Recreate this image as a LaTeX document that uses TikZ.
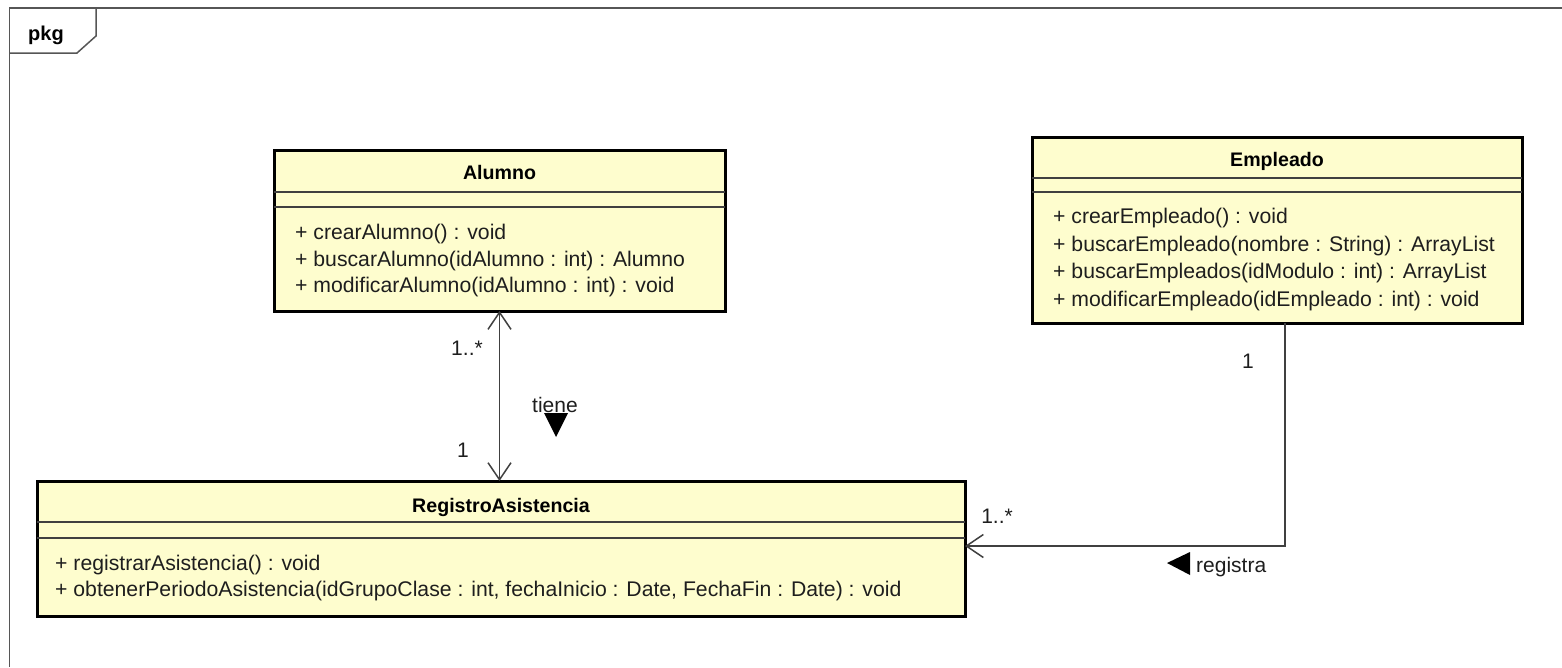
\documentclass[tikz,border=0pt]{standalone}
\usepackage{fontspec}
\setmainfont{Liberation Sans}
\usetikzlibrary{arrows.meta}
\definecolor{classfill}{RGB}{254,253,206}
\definecolor{ink}{RGB}{30,30,30}
\begin{document}
\begin{tikzpicture}[x=1pt,y=-1pt,
  classbox/.style={draw=black, line width=3pt, fill=classfill, anchor=north west, inner sep=0pt, outer sep=0pt},
  sepline/.style={draw=ink!85, line width=1.5pt},
  optext/.style={anchor=base west, inner sep=0pt, font=\fontsize{21.2}{24}\selectfont, text=ink},
  titletext/.style={anchor=base, inner sep=0pt, font=\fontsize{19.6}{24}\selectfont\bfseries, text=black},
  lbl/.style={anchor=base, inner sep=0pt, font=\fontsize{21}{24}\selectfont, text=ink},
  assoc/.style={draw=ink!85, line width=1.5pt},
  dirmark/.style={fill=black, draw=none},
  framestyle/.style={draw=ink!75, line width=1.5pt},
  >={Straight Barb[length=17pt,width=23pt]}]
\useasboundingbox (0,0) rectangle (1562,667);

% package frame
\draw[framestyle] (1562,8) -- (9.5,8) -- (9.5,667);
\draw[framestyle] (96,8) -- (96,36) -- (77,53) -- (9.5,53);
\node[anchor=base west, inner sep=0pt, font=\fontsize{20}{24}\selectfont\bfseries] (pkg) at (28,40) {pkg};

% Alumno
\node[classbox, minimum width=451pt, minimum height=161pt] (alumno) at (274,150) {};
\draw[sepline] (alumno.west |- 0,192) -- (alumno.east |- 0,192);
\draw[sepline] (alumno.west |- 0,207) -- (alumno.east |- 0,207);
\node[titletext] (alumnoT) at (499.5,179) {Alumno};
\node[optext] (a1) at (295,239) {+ crearAlumno() : void};
\node[optext] (a2) at (295,266) {+ buscarAlumno(idAlumno : int) : Alumno};
\node[optext] (a3) at (295,292) {+ modificarAlumno(idAlumno : int) : void};

% Empleado
\node[classbox, minimum width=490pt, minimum height=186pt] (empleado) at (1032,137) {};
\draw[sepline] (empleado.west |- 0,178) -- (empleado.east |- 0,178);
\draw[sepline] (empleado.west |- 0,192) -- (empleado.east |- 0,192);
\node[titletext] (empleadoT) at (1277,166) {Empleado};
\node[optext] (e1) at (1053,223) {+ crearEmpleado() : void};
\node[optext] (e2) at (1053,251) {+ buscarEmpleado(nombre : String) : ArrayList};
\node[optext] (e3) at (1053,278) {+ buscarEmpleados(idModulo : int) : ArrayList};
\node[optext] (e4) at (1053,306) {+ modificarEmpleado(idEmpleado : int) : void};

% RegistroAsistencia
\node[classbox, minimum width=928pt, minimum height=135pt] (registro) at (37,481) {};
\draw[sepline] (registro.west |- 0,522) -- (registro.east |- 0,522);
\draw[sepline] (registro.west |- 0,538) -- (registro.east |- 0,538);
\node[titletext] (registroT) at (501,512) {RegistroAsistencia};
\node[optext] (r1) at (55,570) {+ registrarAsistencia() : void};
\node[optext] (r2) at (55,596) {+ obtenerPeriodoAsistencia(idGrupoClase : int, fechaInicio : Date, FechaFin : Date) : void};

% association "tiene"
\draw[assoc, <->] (alumno.south) -- (alumno.south |- registro.north);
\node[lbl] (m1) at (467,355) {1..*};
\node[lbl] (m2) at (463,457) {1};
\node[lbl] (tiene) at (555,412) {tiene};
\fill[dirmark] (544,413) -- (568,413) -- (556,437) -- cycle;

% association "registra"
\coordinate (bend) at (1285,546);
\draw[assoc, ->] (empleado.south -| bend) -- (bend) -- (registro.east |- bend);
\node[lbl] (m3) at (1248,368) {1};
\node[lbl] (m4) at (997,523) {1..*};
\node[anchor=base west, inner sep=0pt, font=\fontsize{21}{24}\selectfont, text=ink] (registra) at (1196,572) {registra};
\fill[dirmark] (1167,563) -- (1190,552) -- (1190,575) -- cycle;
\end{tikzpicture}
\end{document}
